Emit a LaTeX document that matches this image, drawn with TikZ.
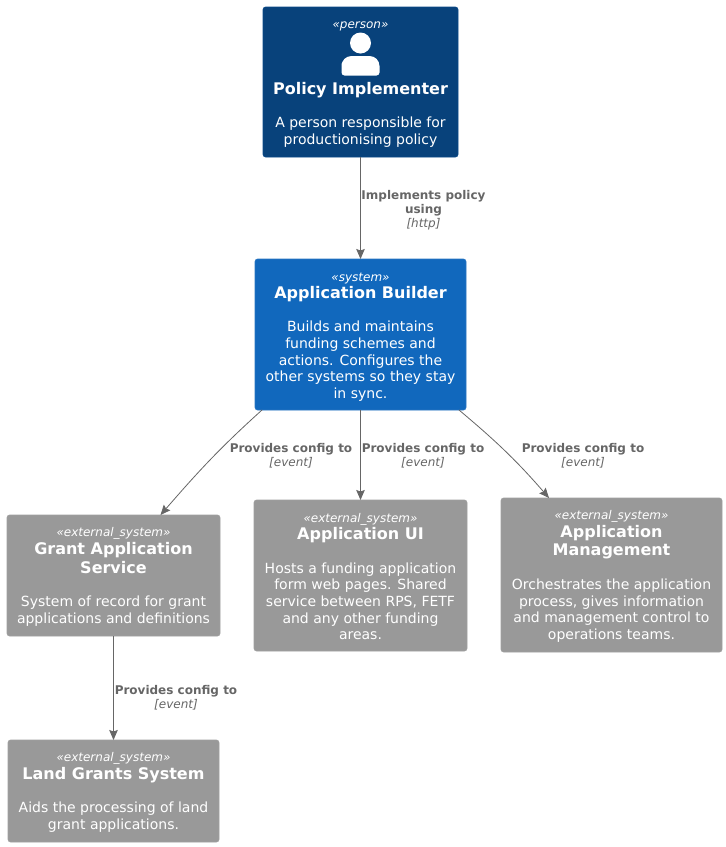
\documentclass[tikz,border=0pt]{standalone}
\usepackage{xcolor}
\usepackage{fontspec}
\setmainfont{DejaVu Sans}
\usetikzlibrary{arrows.meta}

\definecolor{personblue}{HTML}{08427B}
\definecolor{personline}{HTML}{0A4A88}
\definecolor{systemblue}{HTML}{1168BD}
\definecolor{systemline}{HTML}{2A76C2}
\definecolor{extgrey}{HTML}{999999}
\definecolor{extline}{HTML}{A0A0A0}
\definecolor{linkgrey}{HTML}{666666}

\newcommand{\stereo}[1]{{\fontsize{12}{14}\selectfont\itshape «#1»}}
\newcommand{\boxtitle}[1]{{\fontsize{16}{18}\selectfont\bfseries #1}}
\newcommand{\linktext}[2]{{\bfseries #1}\\{\itshape [#2]}}

\tikzset{
    card/.style={draw, rounded corners=2.5pt, line width=0.6pt, text=white, align=center,
        font=\fontsize{14}{16.6}\selectfont, inner sep=0pt, outer sep=0pt, anchor=north west},
    person/.style={card, fill=personblue, draw=personline},
    system/.style={card, fill=systemblue, draw=systemline},
    external/.style={card, fill=extgrey, draw=extline},
    link/.style={text=linkgrey, align=center, font=\fontsize{12}{14}\selectfont, inner sep=0pt},
    flow/.style={draw=linkgrey, line width=0.8pt, -{Stealth[length=10pt,width=8.5pt,inset=1.5pt]}}
}

\begin{document}
\begin{tikzpicture}[x=1pt, y=-1pt]
    \useasboundingbox (0,0) rectangle (726,847);

    \node[person, minimum width=195pt, minimum height=150pt] (implementer) at (263,7) {
        \rule{0pt}{12pt}\stereo{person}\\[49pt]
        \boxtitle{Policy Implementer}\\[17pt]
        A person responsible for\\productionising policy};
    \node[system, minimum width=211pt, minimum height=151pt] (builder) at (255,259) {
        \rule{0pt}{14pt}\stereo{system}\\
        \boxtitle{Application Builder}\\[17pt]
        Builds and maintains\\funding schemes and\\actions. Configures the\\other systems so they stay\\in sync.};
    \node[external, minimum width=213pt, minimum height=121pt] (grant) at (7,515) {
        \rule{0pt}{12pt}\stereo{external\_system}\\[1pt]
        \boxtitle{Grant Application}\\[2pt]\boxtitle{Service}\\[17pt]
        System of record for grant\\applications and definitions};
    \node[external, minimum width=213pt, minimum height=151pt] (ui) at (254,500) {
        \rule{0pt}{11pt}\stereo{external\_system}\\[1pt]
        \boxtitle{Application UI}\\[17pt]
        Hosts a funding application\\form web pages. Shared\\service between RPS, FETF\\and any other funding\\areas.};
    \node[external, minimum width=221pt, minimum height=154pt] (management) at (501,498) {
        \rule{0pt}{12pt}\stereo{external\_system}\\[1pt]
        \boxtitle{Application}\\[2pt]\boxtitle{Management}\\[17pt]
        Orchestrates the application\\process, gives information\\and management control to\\operations teams.};
    \node[external, minimum width=211pt, minimum height=102pt] (land) at (8,740) {
        \rule{0pt}{12pt}\stereo{external\_system}\\[1pt]
        \boxtitle{Land Grants System}\\[17pt]
        Aids the processing of land\\grant applications.};

    % person icon
    \fill[white] (360.5,43) circle (10.5pt);
    \fill[white, rounded corners=3pt] (341.5,75.5) -- (341.5,66) [rounded corners=10pt] -- (341.5,56) -- (379.5,56) [rounded corners=3pt] -- (379.5,75.5) -- cycle;

    \draw[flow] (implementer) -- (builder);
    \draw[flow] (builder) -- (ui);
    \draw[flow] (grant) -- (land);
    \draw[flow] ([xshift=7pt]builder.south west) to[out=-138, in=49] ([xshift=47pt]grant.north);
    \draw[flow] ([xshift=-7pt]builder.south east) to[out=-40, in=131] ([xshift=48pt]management.north west);

    \node[link] (label1) at (423.5,210) {{\bfseries Implements policy}\\{\bfseries using}\\{\itshape [http]}};
    \node[link] (label2) at (291,455.5) {\linktext{Provides config to}{event}};
    \node[link] (label3) at (423,455.5) {\linktext{Provides config to}{event}};
    \node[link] (label4) at (583,455.5) {\linktext{Provides config to}{event}};
    \node[link] (label5) at (176,698) {\linktext{Provides config to}{event}};
\end{tikzpicture}
\end{document}
